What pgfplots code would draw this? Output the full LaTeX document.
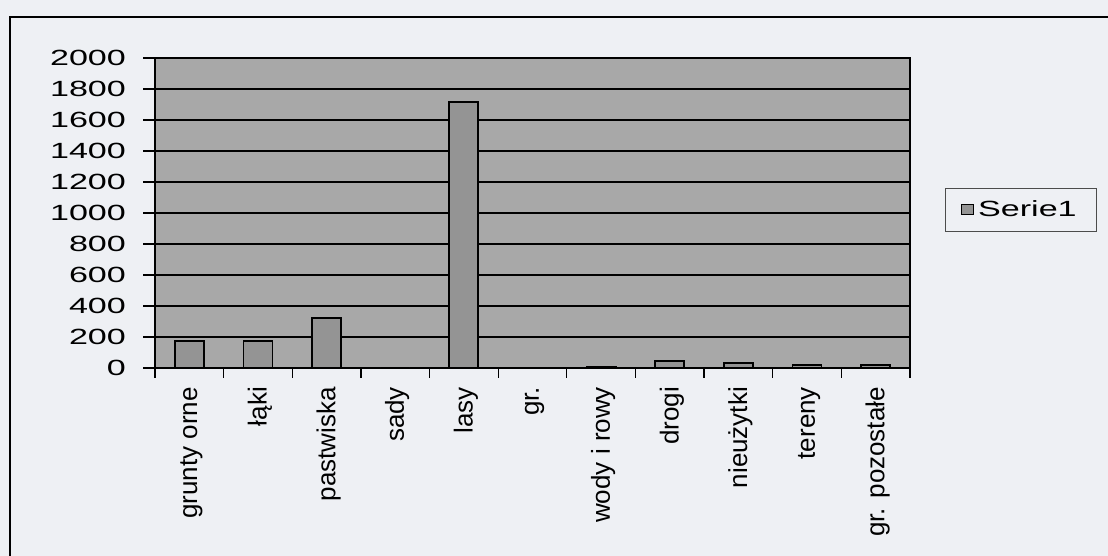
\documentclass[border=0pt]{standalone}
\usepackage{graphicx}
\usepackage{pgfplots}
\pgfplotsset{compat=1.18}
\usepackage{fontspec}
\setmainfont{Liberation Sans}
\definecolor{pagebg}{RGB}{238,240,244}
\definecolor{plotbg}{RGB}{168,168,168}
\definecolor{barfill}{RGB}{148,148,148}
\begin{document}
\begin{tikzpicture}[x=1pt,y=1pt]
\useasboundingbox (0,0) rectangle (554,278);
\clip (0,0) rectangle (554,278);
\fill[pagebg] (0,0) rectangle (554,278);
\draw[black, line width=0.9pt] (5,-10) rectangle (580,269.5);
\begin{axis}[
  at={(77.5pt,94pt)}, anchor=south west,
  scale only axis, width=377.5pt, height=155pt,
  xmin=-0.5, xmax=10.5, ymin=0, ymax=2000,
  axis background/.style={fill=plotbg},
  ytick={0,200,...,2000},
  yticklabel={\scalebox{1.55}[1]{\pgfmathprintnumber{\tick}}},
  xtick={0,...,10},
  xticklabels={grunty orne,łąki,pastwiska,sady,lasy,gr.,wody i rowy,drogi,nieużytki,tereny,gr. pozostałe},
  xticklabel style={rotate=90, anchor=east, font=\fontsize{13}{15}\selectfont, yshift=-1pt},
  yticklabel style={font=\fontsize{11}{13}\selectfont, xshift=-5pt},
  /pgf/number format/assume math mode=true,
  /pgf/number format/1000 sep={},
  major x tick style={draw=none},
  minor xtick={-0.5,0.5,...,10.5},
  minor tick length=5pt,
  major tick length=6pt,
  tick align=outside,
  tick style={black, line width=0.6pt},
  ymajorgrids, grid style={black, line width=0.6pt},
  axis line style={black, line width=0.8pt},
  ytick pos=left, xtick pos=bottom,
  legend style={at={(1.046,0.51)}, anchor=west, draw=black!70, fill=pagebg,
    font=\fontsize{11}{13}\selectfont, inner xsep=8pt, inner ysep=4pt,
    legend cell align=left},
  legend image code/.code={\draw[fill=barfill, draw=black, line width=0.5pt] (0pt,-2.5pt) rectangle (6pt,2.5pt);},
]
\addplot[ybar, bar width=14.5pt, fill=barfill, draw=black, line width=0.9pt] coordinates {
 (0,172) (1,172) (2,322) (3,0) (4,1718) (5,0) (6,6) (7,45) (8,32) (9,20) (10,20)};
\addlegendentry{\scalebox{1.55}[1]{Serie1}}
\end{axis}
\end{tikzpicture}
\end{document}
